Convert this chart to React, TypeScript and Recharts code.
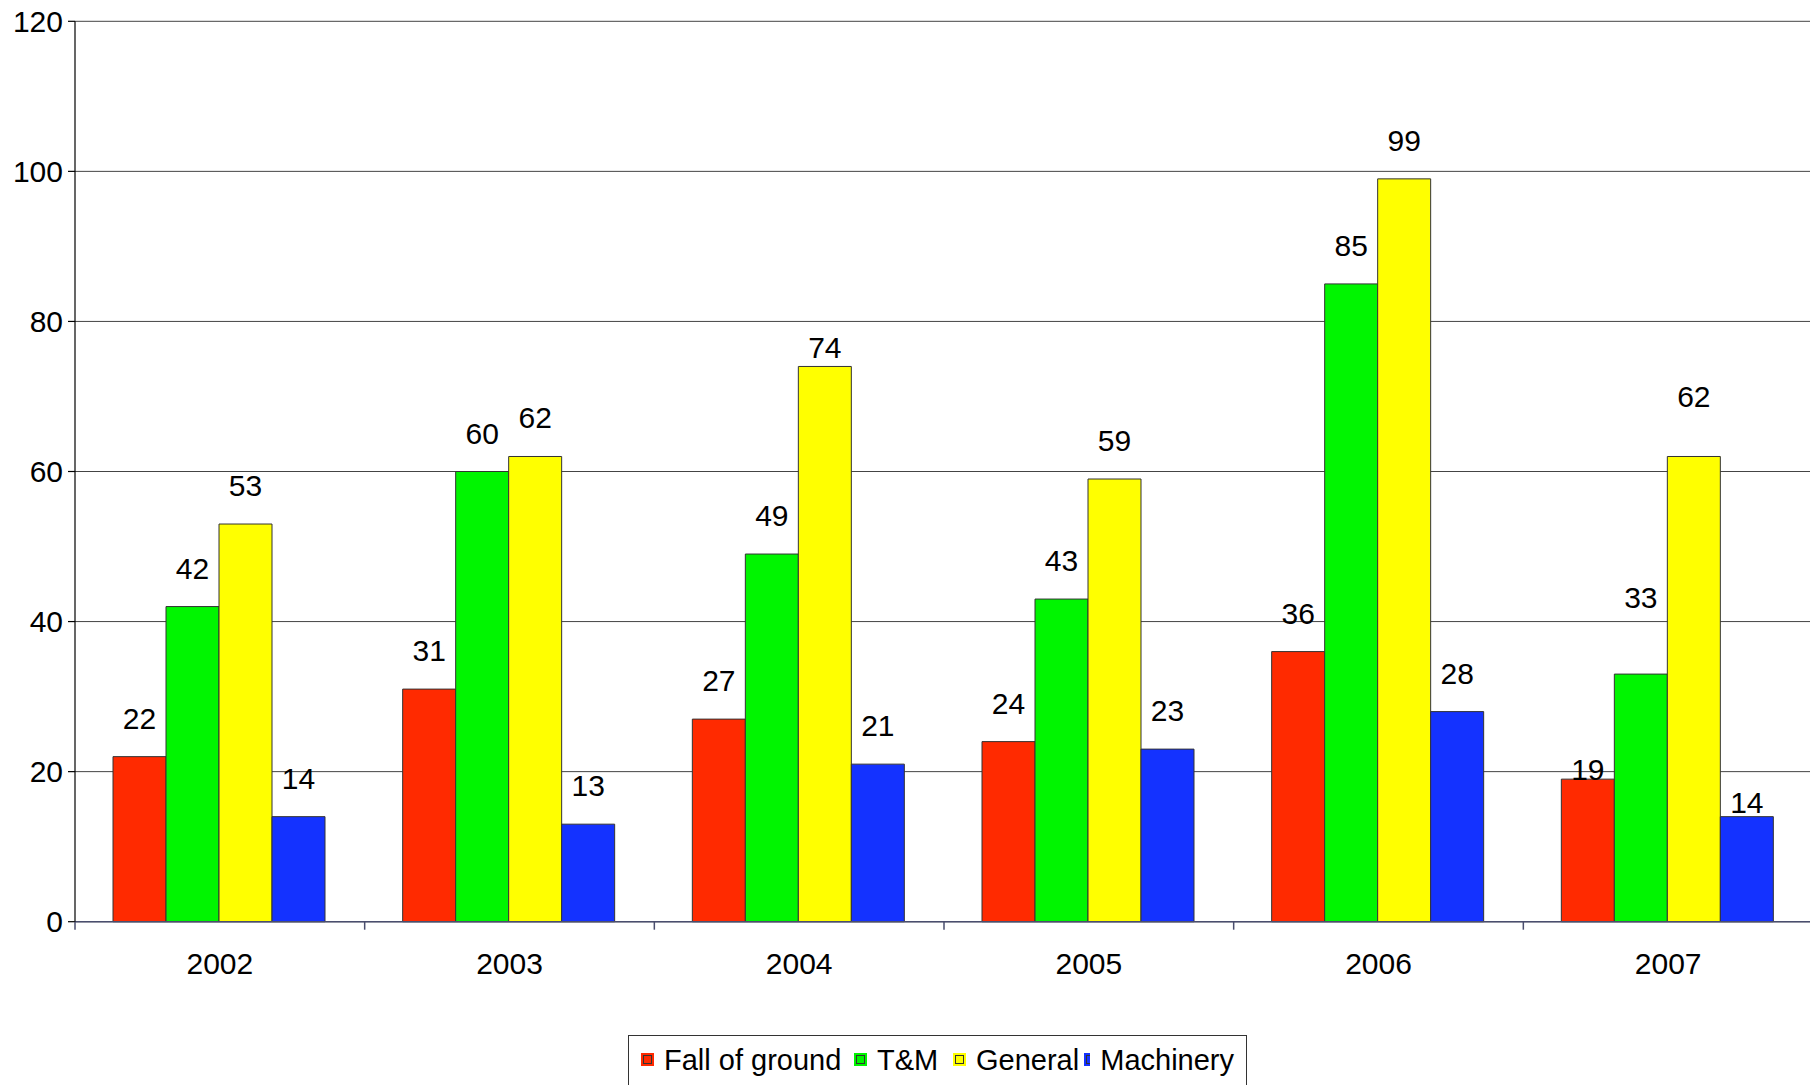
import React from 'react';
import { BarChart, Bar, XAxis, YAxis, CartesianGrid, LabelList, Legend } from 'recharts';

const years = ['2002', '2003', '2004', '2005', '2006', '2007'];
const fallOfGround = [22, 31, 27, 24, 36, 19];
const tAndM = [42, 60, 49, 43, 85, 33];
const general = [53, 62, 74, 59, 99, 62];
const machinery = [14, 13, 21, 23, 28, 14];
const yTicks = [0, 20, 40, 60, 80, 100, 120];

const seriesKeys = ['fall', 'tm', 'general', 'machinery'];
const seriesNames = ['Fall of ground', 'T&M', 'General', 'Machinery'];
const seriesColors = ['#FF2A00', '#00F500', '#FFFF00', '#1432FF'];

const data = years.map((y, i) => ({
  year: y,
  fall: fallOfGround[i],
  tm: tAndM[i],
  general: general[i],
  machinery: machinery[i],
}));

// chart geometry (styling)
const CHART_W = 1813;
const CHART_H = 1085;
const M_TOP = 21.3;
const M_BOTTOM = 103.3;
const X_AXIS_H = 60;
const Y_AXIS_W = 75;
const PLOT_W = CHART_W - Y_AXIS_W;
const PLOT_BOTTOM = CHART_H - M_BOTTOM - X_AXIS_H;
const FONT = '"Liberation Sans", Arial, sans-serif';

// per-label lift above bar top (label placement style, as in the original)
const DEFAULT_LIFT = 28;
const labelLift: Record<string, number> = {
  'general|2004': 8,
  'fall|2007': -1,
  'tm|2007': 66,
  'general|2007': 49,
  'machinery|2007': 4,
};

const makeLabel = (key: string) => (props: any) => {
  const { x, y, width, value, index } = props;
  const yr = years[index];
  const lift = labelLift[`${key}|${yr}`] ?? DEFAULT_LIFT;
  return (
    <text
      x={Number(x) + Number(width) / 2}
      y={Number(y) - lift}
      textAnchor="middle"
      fontSize={30}
      fontFamily={FONT}
      fill="#000"
    >
      {value}
    </text>
  );
};

const XTick = (props: any) => {
  const { x, payload } = props;
  const band = PLOT_W / years.length;
  const bx = x - band / 2;
  return (
    <g>
      <line x1={bx} x2={bx} y1={PLOT_BOTTOM} y2={PLOT_BOTTOM + 8} stroke="#4a4e6e" strokeWidth={1.5} />
      <text x={x} y={PLOT_BOTTOM + 52.3} textAnchor="middle" fontSize={30} fontFamily={FONT} fill="#000">
        {payload.value}
      </text>
    </g>
  );
};

const Marker = ({ color }: { color: string }) => (
  <svg width={13} height={13} style={{ display: 'block' }}>
    <rect x={0} y={0} width={13} height={13} fill={color} />
    <rect x={2.5} y={2.5} width={8} height={8} fill={color} stroke="#333" strokeWidth={1} />
  </svg>
);

const itemWidths = [213, 99, 131, 150];

const LegendBox = () => (
  <div
    style={{
      boxSizing: 'border-box',
      width: 619,
      height: 70,
      border: '1px solid #333',
      background: '#fff',
      position: 'relative',
      fontFamily: FONT,
    }}
  >
    <div style={{ position: 'absolute', left: 12, top: 0, height: 47, display: 'flex', alignItems: 'center' }}>
      {seriesNames.map((n, i) => (
        <div key={n} style={{ width: itemWidths[i], display: 'flex', alignItems: 'center' }}>
          <Marker color={seriesColors[i]} />
          <span style={{ marginLeft: 10, fontSize: 29, lineHeight: '32px', color: '#000', whiteSpace: 'nowrap' }}>{n}</span>
        </div>
      ))}
    </div>
  </div>
);

export default function App() {
  return (
    <div style={{ position: 'absolute', left: 0, top: 0, width: 1810, height: 1085, overflow: 'hidden', background: '#fff' }}>
      <BarChart
        width={CHART_W}
        height={CHART_H}
        data={data}
        margin={{ top: M_TOP, right: 0, left: 0, bottom: M_BOTTOM }}
        barCategoryGap={38}
        barGap={0}
      >
        <CartesianGrid vertical={false} stroke="#444" strokeWidth={1} />
        <XAxis
          dataKey="year"
          height={X_AXIS_H}
          axisLine={{ stroke: '#4a4e6e', strokeWidth: 1.5 }}
          tickLine={false}
          tickSize={8}
          tickMargin={21}
          interval={0}
          tick={<XTick />}
        />
        <YAxis
          width={Y_AXIS_W}
          type="number"
          domain={[0, 120]}
          ticks={yTicks}
          interval={0}
          axisLine={{ stroke: '#000', strokeWidth: 1.2 }}
          tickLine={{ stroke: '#000', strokeWidth: 1.2 }}
          tickSize={7}
          tickMargin={5}
          tick={{ fontSize: 30, fontFamily: FONT, fill: '#000' }}
        />
        <Legend
          layout="horizontal"
          verticalAlign="middle"
          align="center"
          wrapperStyle={{ position: 'absolute', left: 628, top: 1035, width: 619, height: 70, margin: 0, padding: 0 }}
          content={() => <LegendBox />}
        />
        {seriesKeys.map((k, i) => (
          <Bar
            key={k}
            dataKey={k}
            name={seriesNames[i]}
            fill={seriesColors[i]}
            stroke="#333"
            strokeWidth={1}
            isAnimationActive={false}
          >
            <LabelList dataKey={k} content={makeLabel(k)} />
          </Bar>
        ))}
      </BarChart>
    </div>
  );
}
